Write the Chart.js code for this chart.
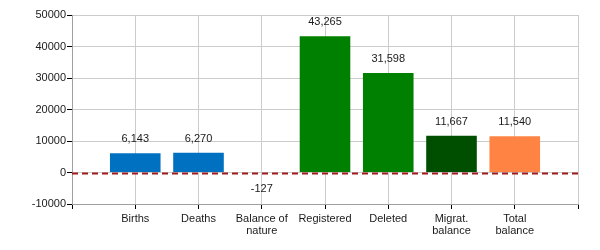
<!DOCTYPE html>
<html>
<head>
<meta charset="utf-8">
<script src="https://cdn.jsdelivr.net/npm/chart.js@4/dist/chart.umd.min.js"></script>
<style>
    html, body { margin: 0; padding: 0; background: #fff; }
    #wrap { width: 600px; height: 250px; }
</style>
</head>
<body>
<div id="wrap"><canvas id="balanceChart" width="600" height="250"></canvas></div>
<script>
// Date grafic
const categories = ['', 'Births', 'Deaths', ['Balance of', 'nature'], 'Registered', 'Deleted', ['Migrat.', 'balance'], ['Total', 'balance'], ''];
const values = [null, 6143, 6270, -127, 43265, 31598, 11667, 11540, null];
const barColors = ['#0070c0', '#0070c0', '#0070c0', '#0070c0', '#008000', '#008000', '#004f00', '#ff8444', '#0070c0'];
const yTicks = [-10000, 0, 10000, 20000, 30000, 40000, 50000];

const FONT = '"Liberation Sans", Arial, sans-serif';

// Etichete valori deasupra / sub bare
const valueLabels = {
    id: 'valueLabels',
    afterDatasetsDraw(chart) {
        const ctx = chart.ctx;
        const meta = chart.getDatasetMeta(0);
        ctx.save();
        ctx.font = '11px ' + FONT;
        ctx.fillStyle = '#1a1a1a';
        ctx.textAlign = 'center';
        ctx.textBaseline = 'middle';
        meta.data.forEach((bar, i) => {
            const v = values[i];
            if (v === null) return;
            const y = v >= 0 ? bar.y - 14 : bar.y + 16;
            ctx.fillText(v.toLocaleString('en-US'), bar.x, y);
        });
        ctx.restore();
    }
};

// Linie punctată la zero
const zeroLine = {
    id: 'zeroLine',
    afterDatasetsDraw(chart) {
        const ctx = chart.ctx;
        const area = chart.chartArea;
        const y = Math.round(chart.scales.y.getPixelForValue(0)) + 0.5;
        ctx.save();
        ctx.strokeStyle = '#a01c1c';
        ctx.lineWidth = 2;
        ctx.setLineDash([6, 4]);
        ctx.beginPath();
        ctx.moveTo(area.left, y);
        ctx.lineTo(area.right, y);
        ctx.stroke();
        ctx.restore();
    }
};

new Chart(document.getElementById('balanceChart'), {
    type: 'bar',
    data: {
        labels: categories,
        datasets: [{
            data: values,
            backgroundColor: barColors,
            borderWidth: 0,
            categoryPercentage: 1,
            barPercentage: 0.8
        }]
    },
    options: {
        responsive: false,
        animation: false,
        events: [],
        layout: { padding: { top: 15, right: 22, left: 0, bottom: 0 } },
        plugins: {
            legend: { display: false },
            tooltip: { enabled: false }
        },
        scales: {
            x: {
                offset: false,
                grid: {
                    color: '#cccccc',
                    tickColor: '#000',
                    tickLength: 5,
                    offset: false
                },
                border: { color: '#a0a0a0' },
                ticks: {
                    autoSkip: false,
                    maxRotation: 0,
                    padding: 4,
                    color: '#1a1a1a',
                    font: { family: FONT, size: 11, lineHeight: 1.1 }
                },
                afterFit(scale) { scale.height = 46; }
            },
            y: {
                min: -10000,
                max: 50000,
                afterBuildTicks(scale) {
                    scale.ticks = yTicks.map(v => ({ value: v }));
                },
                grid: {
                    color: '#cccccc',
                    tickColor: '#000',
                    tickLength: 5
                },
                border: { color: '#a0a0a0' },
                ticks: {
                    padding: 1,
                    color: '#1a1a1a',
                    font: { family: FONT, size: 11 },
                    callback: (v) => String(v)
                },
                afterFit(scale) { scale.width = 72; }
            }
        }
    },
    plugins: [zeroLine, valueLabels]
});
</script>
</body>
</html>
